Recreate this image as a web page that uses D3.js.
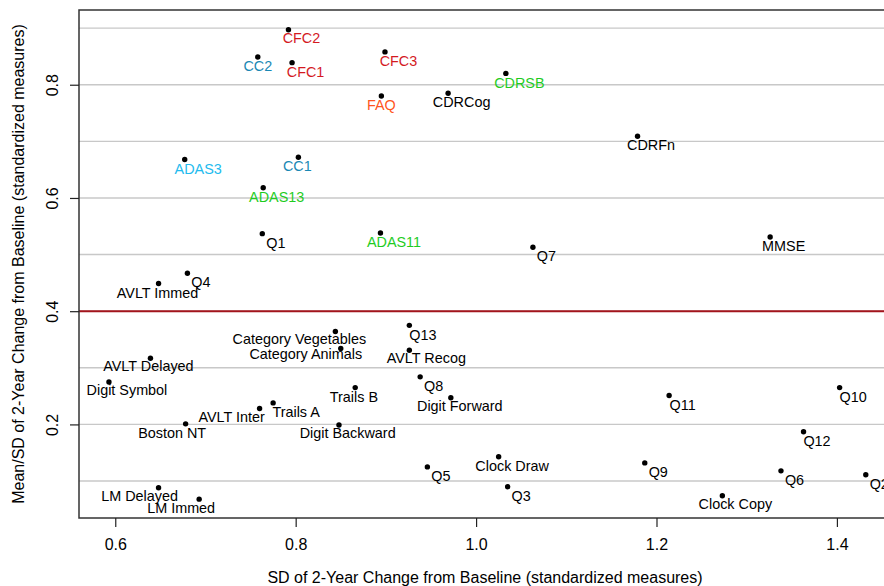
<!DOCTYPE html>
<html>
<head>
<meta charset="utf-8">
<script src="https://cdn.jsdelivr.net/npm/d3@7"></script>
<style>
  body { margin: 0; background: #fff; }
  svg { display: block; font-family: "Liberation Sans", Arial, Helvetica, sans-serif; }
  .grid line { stroke: #c8c8c8; stroke-width: 1.4; }
  .axis path, .axis line { stroke: #222; stroke-width: 1.2; }
  .axis text { font-size: 16px; fill: #000; }
  .lbl { font-size: 14.4px; }
</style>
</head>
<body>
<div id="chart"></div>
<script>
// measure names, SD of change (x) and mean/SD of change (y)
var measures = ["CFC2", "CC2", "CFC1", "CFC3", "FAQ", "CDRCog", "CDRSB", "CDRFn",
  "ADAS3", "CC1", "ADAS13", "Q1", "ADAS11", "Q7", "MMSE", "Q4", "AVLT Immed",
  "Category Vegetables", "Category Animals", "Q13", "AVLT Recog", "AVLT Delayed",
  "Digit Symbol", "Q8", "Trails B", "Digit Forward", "Q11", "Q10", "Trails A",
  "AVLT Inter", "Boston NT", "Digit Backward", "Q12", "Clock Draw", "Q9", "Q5",
  "Q6", "Q2", "Q3", "LM Delayed", "Clock Copy", "LM Immed"];

var sdChange = [0.792, 0.758, 0.796, 0.899, 0.895, 0.969, 1.033, 1.179,
  0.677, 0.803, 0.764, 0.763, 0.894, 1.063, 1.326, 0.680, 0.648,
  0.844, 0.850, 0.926, 0.926, 0.639,
  0.593, 0.938, 0.866, 0.972, 1.214, 1.403, 0.775,
  0.760, 0.678, 0.848, 1.363, 1.025, 1.187, 0.946,
  1.338, 1.432, 1.035, 0.648, 1.273, 0.693];

var meanSd = [0.897, 0.849, 0.839, 0.858, 0.780, 0.785, 0.820, 0.709,
  0.668, 0.672, 0.618, 0.537, 0.538, 0.513, 0.531, 0.467, 0.449,
  0.364, 0.334, 0.375, 0.331, 0.317,
  0.275, 0.284, 0.265, 0.247, 0.251, 0.265, 0.238,
  0.228, 0.201, 0.199, 0.187, 0.143, 0.132, 0.125,
  0.118, 0.111, 0.090, 0.088, 0.074, 0.068];

var xTicks = [0.6, 0.8, 1.0, 1.2, 1.4];
var yTicks = [0.2, 0.4, 0.6, 0.8];
var yGrid = [0.1, 0.2, 0.3, 0.4, 0.5, 0.6, 0.7, 0.8, 0.9];
var cutoff = 0.4;

// label colours (everything else black)
var labelColor = {
  "CFC1": "#d41a1f", "CFC2": "#d41a1f", "CFC3": "#d41a1f",
  "CC1": "#1a88b4", "CC2": "#1a88b4",
  "ADAS3": "#22bbee",
  "ADAS11": "#1fcc1f", "ADAS13": "#1fcc1f", "CDRSB": "#1fcc1f",
  "FAQ": "#ff5520"
};

// label placement relative to the dot, pixels (default 13.5, 9)
var nudge = {
  "CC2": [0, 9], "FAQ": [0, 8.6], "CC1": [-1, 9], "AVLT Immed": [-1, 9],
  "Category Vegetables": [-36, 7.3], "Category Animals": [-35, 5],
  "AVLT Recog": [17, 7.7], "AVLT Delayed": [-2, 7.4], "Digit Symbol": [18, 8],
  "Trails B": [-1.3, 9.4], "Digit Forward": [9, 8], "Trails A": [23, 9],
  "AVLT Inter": [-28, 8.4], "Boston NT": [-13.5, 8.7], "Digit Backward": [8.7, 8.3],
  "LM Delayed": [-19, 8], "Clock Copy": [13, 8], "LM Immed": [-18, 8.7],
  "CFC2": [13, 7.7]
};

var W = 884, H = 586;
var pLeft = 79, pTop = 10, pBottom = 518, pRight = 895;

var x = d3.scaleLinear().domain([0.5598, 1.4644]).range([pLeft, pRight]);
var y = d3.scaleLinear().domain([0.0347, 0.932]).range([pBottom, pTop]);

var svg = d3.select("#chart").append("svg")
  .attr("width", W).attr("height", H);

// horizontal reference lines
svg.append("g").attr("class", "grid")
  .selectAll("line").data(yGrid).enter().append("line")
  .attr("x1", pLeft).attr("x2", pRight)
  .attr("y1", function(d) { return y(d); })
  .attr("y2", function(d) { return y(d); });

svg.append("line")
  .attr("x1", pLeft).attr("x2", pRight)
  .attr("y1", y(cutoff)).attr("y2", y(cutoff))
  .attr("stroke", "#a3141c").attr("stroke-width", 2);

// box
svg.append("rect")
  .attr("x", pLeft).attr("y", pTop)
  .attr("width", pRight - pLeft).attr("height", pBottom - pTop)
  .attr("fill", "none").attr("stroke", "#333").attr("stroke-width", 1.5);

// axes
var xAxis = d3.axisBottom(x).tickValues(xTicks).tickSize(9)
  .tickFormat(d3.format(".1f"));
var gx = svg.append("g").attr("class", "axis")
  .attr("transform", "translate(0," + pBottom + ")")
  .call(xAxis);
gx.select(".domain").remove();
gx.selectAll("text").attr("dy", null).attr("y", 32);

var yAxis = d3.axisLeft(y).tickValues(yTicks).tickSize(9)
  .tickFormat(d3.format(".1f"));
var gy = svg.append("g").attr("class", "axis")
  .attr("transform", "translate(" + pLeft + ",0)")
  .call(yAxis);
gy.select(".domain").remove();
gy.selectAll("text")
  .attr("x", null).attr("dy", null)
  .attr("text-anchor", "middle")
  .attr("transform", "translate(-21.5,0) rotate(-90)");

// axis titles
svg.append("text")
  .attr("x", 485).attr("y", 583)
  .attr("text-anchor", "middle").attr("font-size", 16)
  .text("SD of 2-Year Change from Baseline (standardized measures)");

svg.append("text")
  .attr("transform", "translate(24," + ((pTop + pBottom) / 2) + ") rotate(-90)")
  .attr("text-anchor", "middle").attr("font-size", 16)
  .text("Mean/SD of 2-Year Change from Baseline (standardized measures)");

var pts = measures.map(function(m, i) {
  return { name: m, sd: sdChange[i], ms: meanSd[i] };
});

// labels
svg.append("g").selectAll("text").data(pts).enter().append("text")
  .attr("class", "lbl")
  .attr("text-anchor", "middle")
  .attr("fill", function(d) { return labelColor[d.name] || "#000"; })
  .attr("x", function(d) { var n = nudge[d.name] || [13.5, 9]; return x(d.sd) + n[0]; })
  .attr("y", function(d) { var n = nudge[d.name] || [13.5, 9]; return y(d.ms) + n[1] + 5.2; })
  .text(function(d) { return d.name; });

// points
svg.append("g").selectAll("circle").data(pts).enter().append("circle")
  .attr("cx", function(d) { return x(d.sd); })
  .attr("cy", function(d) { return y(d.ms); })
  .attr("r", 2.7)
  .attr("fill", "#000");
</script>
</body>
</html>
